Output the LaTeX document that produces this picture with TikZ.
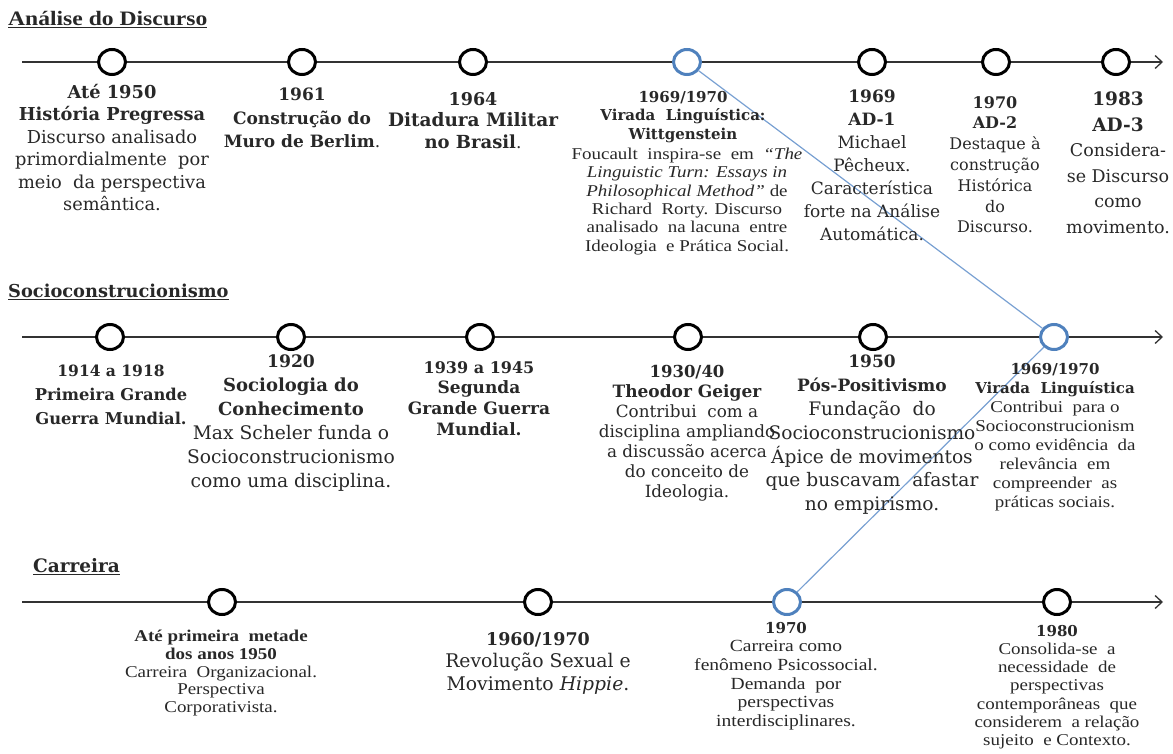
\documentclass[tikz,border=0pt]{standalone}
\usepackage{fontspec}
\usetikzlibrary{arrows.meta,shapes.geometric}
\newfontfamily\tnr{Liberation Serif}[FakeStretch=1.15]
\newfontfamily\cs{DejaVu Serif}
\definecolor{tlgray}{RGB}{50,50,50}
\definecolor{evblue}{RGB}{79,129,189}
\definecolor{lnblue}{RGB}{120,160,210}
\definecolor{txtc}{RGB}{40,40,40}
\newcommand{\fs}[2]{\fontsize{#1}{#2}\selectfont}
\newcommand{\hb}[2]{{\cs\bfseries\fontsize{#1}{12}\selectfont #2}}
\tikzset{
  tline/.style={draw=tlgray, line width=1.5pt, -{Straight Barb[length=7pt,width=13pt,line width=1.3pt]}},
  ev/.style={ellipse, draw=black, line width=3pt, fill=white, minimum width=27pt, minimum height=25pt, inner sep=0pt},
  evb/.style={ev, draw=evblue},
  link/.style={draw=lnblue, line width=1.2pt},
  txt/.style={anchor=north, inner sep=0pt, align=center, text=txtc},
  ttl/.style={anchor=west, inner sep=0pt, text=txtc},
}
\begin{document}
\begin{tikzpicture}[x=1pt,y=-1pt]
\useasboundingbox (0,0) rectangle (1173,754);
% titles
\node[ttl, font=\tnr\bfseries\fs{20.5}{24}] (t1) at (8,20) {\underline{Análise do Discurso}};
\node[ttl, font=\cs\bfseries\fs{17.8}{24}] (t2) at (8,292) {\underline{Socioconstrucionismo}};
\node[ttl, font=\cs\bfseries\fs{18.5}{24}] (t3) at (33,567) {\underline{Carreira}};
% timelines
\coordinate (l1s) at (22,62);  \coordinate (l1e) at (1163,62);
\coordinate (l2s) at (22,337); \coordinate (l2e) at (1163,337);
\coordinate (l3s) at (22,602); \coordinate (l3e) at (1163,602);
\draw[tline] (l1s) -- (l1e);
\draw[tline] (l2s) -- (l2e);
\draw[tline] (l3s) -- (l3e);
% event markers
\node[ev]  (a1) at (112,62) {};
\node[ev]  (a2) at (302,62) {};
\node[ev]  (a3) at (473,62) {};
\node[evb] (a4) at (687,62) {};
\node[ev]  (a5) at (872,62) {};
\node[ev]  (a6) at (996,62) {};
\node[ev]  (a7) at (1116,62) {};
\node[ev]  (m1) at (110,337) {};
\node[ev]  (m2) at (291,337) {};
\node[ev]  (m3) at (480,337) {};
\node[ev]  (m4) at (688,337) {};
\node[ev]  (m5) at (873,337) {};
\node[evb] (m6) at (1054,337) {};
\node[ev]  (b1) at (222,602) {};
\node[ev]  (b2) at (538,602) {};
\node[evb] (b3) at (787,602) {};
\node[ev]  (b4) at (1057,602) {};
% blue links
\draw[link] (a4) -- (m6);
\draw[link] (m6) -- (b3);
% top row texts
\node[txt, font=\cs\fs{17.8}{22.5}] (ta1) at (112,84) {\hb{17.8}{Até 1950}\\\hb{17.8}{História Pregressa}\\Discurso\ analisado\\primordialmente\ \ por\\meio\ \ da perspectiva\\semântica.};
\node[txt, font=\cs\fs{17}{23.5}] (ta2) at (302,88) {\hb{17}{1961}\\\hb{17}{Construção do}\\\hb{17}{Muro de Berlim}.};
\node[txt, font=\cs\fs{17}{21.5}] (ta3) at (473,92) {\hb{17.5}{1964}\\\hb{18.5}{Ditadura Militar}\\\hb{18}{no Brasil}.};
\node[txt, font=\cs\bfseries\fs{15}{18.5}] (ta4h) at (683,91) {1969/1970\\Virada\ \ Linguística:\\Wittgenstein};
\node[txt, font=\tnr\fs{16.5}{18.3}] (ta4b) at (687,148) {Foucault\ \ inspira-se\ \ em\ \ \textit{“The}\\\textit{Linguistic Turn: Essays in}\\\textit{Philosophical Method”} de\\Richard\ \ Rorty. Discurso\\analisado\ \ na lacuna\ \ entre\\Ideologia\ \ e Prática Social.};
\node[txt, font=\cs\fs{17}{23}] (ta5) at (872,90) {\hb{17}{1969}\\\hb{17}{AD-1}\\Michael\\Pêcheux.\\Característica\\forte na Análise\\Automática.};
\node[txt, font=\cs\fs{16}{20.8}] (ta6) at (995,96) {\hb{16}{1970}\\\hb{16}{AD-2}\\Destaque à\\construção\\Histórica\\do\\Discurso.};
\node[txt, font=\cs\fs{17.5}{25.5}] (ta7) at (1118,92) {\hb{18.5}{1983}\\\hb{18.5}{AD-3}\\Considera-\\se Discurso\\como\\movimento.};
% middle row texts
\node[txt, font=\cs\bfseries\fs{16.3}{24}] (tm1) at (111,365) {\hb{15.5}{1914 a 1918}\\Primeira Grande\\Guerra Mundial.};
\node[txt, font=\cs\fs{18.7}{24}] (tm2) at (291,355) {\hb{17.2}{1920}\\\hb{18}{Sociologia do}\\\hb{18}{Conhecimento}\\Max Scheler funda o\\Socioconstrucionismo\\como uma disciplina.};
\node[txt, font=\cs\bfseries\fs{17}{20.7}] (tm3) at (479,361) {\hb{16}{1939 a 1945}\\Segunda\\Grande Guerra\\Mundial.};
\node[txt, font=\cs\fs{16.8}{20}] (tm4) at (687,365) {\hb{16.5}{1930/40}\\\hb{17}{Theodor Geiger}\\Contribui\ \ com a\\disciplina ampliando\\a discussão acerca\\do conceito de\\Ideologia.};
\node[txt, font=\cs\fs{18.6}{23.8}] (tm5) at (872,355) {\hb{17}{1950}\\\hb{17}{Pós-Positivismo}\\Fundação\ \ do\\Socioconstrucionismo\\Ápice de movimentos\\que buscavam\ \ afastar\\no empirismo.};
\node[txt, font=\cs\bfseries\fs{15}{19}] (tm6h) at (1055,363) {1969/1970\\Virada\ \ Linguística};
\node[txt, font=\tnr\fs{16.5}{19}] (tm6b) at (1055,401) {Contribui\ \ para o\\Socioconstrucionism\\o como evidência\ \ da\\relevância\ \ em\\compreender\ \ as\\práticas sociais.};
% bottom row texts
\node[txt, font=\tnr\fs{16.5}{17.7}] (tb1) at (221,630) {\textbf{Até primeira\ \ metade}\\\textbf{dos anos 1950}\\Carreira\ \ Organizacional.\\Perspectiva\\Corporativista.};
\node[txt, font=\cs\fs{18.8}{22.5}] (tb2) at (538,632) {\hb{17.5}{1960/1970}\\Revolução Sexual e\\Movimento \textit{Hippie}.};
\node[txt, font=\tnr\fs{17}{18.6}] (tb3) at (786,622) {\hb{15}{1970}\\Carreira como\\fenômeno Psicossocial.\\Demanda\ \ por\\perspectivas\\interdisciplinares.};
\node[txt, font=\tnr\fs{16.5}{18.2}] (tb4) at (1057,625) {\hb{15}{1980}\\Consolida-se\ \ a\\necessidade\ \ de\\perspectivas\\contemporâneas\ \ que\\considerem\ \ a relação\\sujeito\ \ e Contexto.};
\end{tikzpicture}
\end{document}
